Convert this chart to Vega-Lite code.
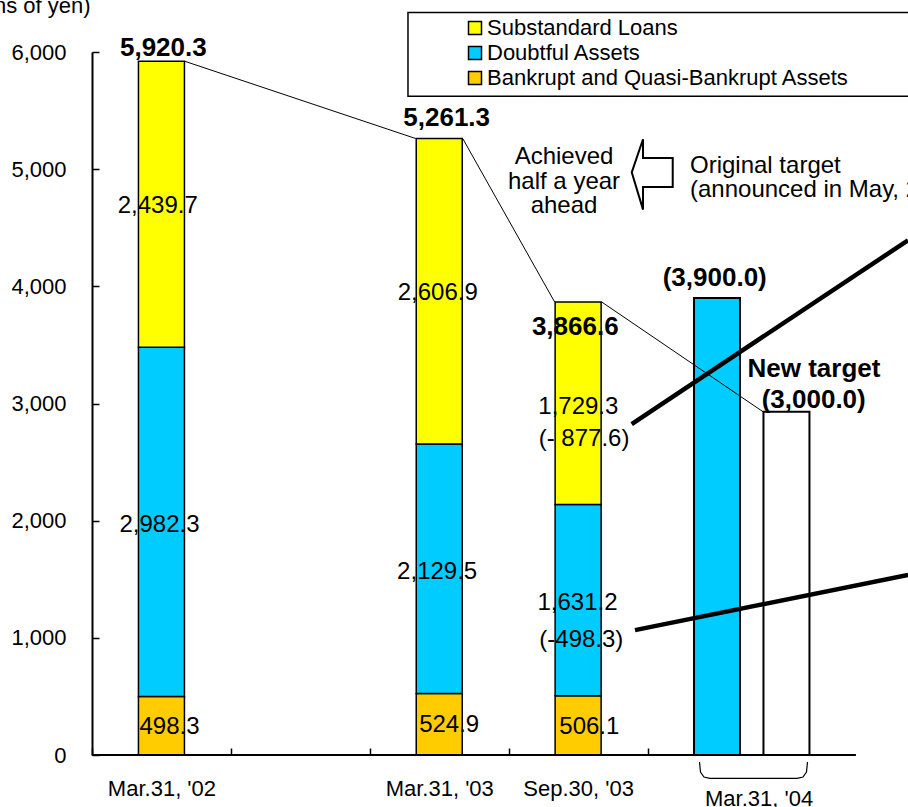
{
  "$schema": "https://vega.github.io/schema/vega-lite/v6.json",
  "width": 816,
  "height": 703,
  "autosize": {"type": "none"},
  "padding": {"left": 92, "top": 52, "right": 0, "bottom": 52},
  "background": "white",
  "config": {
    "font": "Liberation Sans",
    "view": {"stroke": null},
    "axis": {"labelFont": "Liberation Sans", "titleFont": "Liberation Sans", "grid": false},
    "legend": {"labelFont": "Liberation Sans"}
  },
  "datasets": {
    "bars": [
      {"slot": 1, "date": "Mar.31, '02", "category": "Bankrupt and Quasi-Bankrupt Assets", "amount": 498.3},
      {"slot": 1, "date": "Mar.31, '02", "category": "Doubtful Assets", "amount": 2982.3},
      {"slot": 1, "date": "Mar.31, '02", "category": "Substandard Loans", "amount": 2439.7},
      {"slot": 5, "date": "Mar.31, '03", "category": "Bankrupt and Quasi-Bankrupt Assets", "amount": 524.9},
      {"slot": 5, "date": "Mar.31, '03", "category": "Doubtful Assets", "amount": 2129.5},
      {"slot": 5, "date": "Mar.31, '03", "category": "Substandard Loans", "amount": 2606.9},
      {"slot": 7, "date": "Sep.30, '03", "category": "Bankrupt and Quasi-Bankrupt Assets", "amount": 506.1},
      {"slot": 7, "date": "Sep.30, '03", "category": "Doubtful Assets", "amount": 1631.2},
      {"slot": 7, "date": "Sep.30, '03", "category": "Substandard Loans", "amount": 1729.3}
    ],
    "targets": [
      {"slot": 9, "target": "Original target", "amount": 3900},
      {"slot": 10, "target": "New target", "amount": 2930}
    ],
    "connectors": [
      {"from": 1, "fromAmount": 5920.3, "to": 5, "toAmount": 5261.3},
      {"from": 5, "fromAmount": 5261.3, "to": 7, "toAmount": 3866.6},
      {"from": 7, "fromAmount": 3866.6, "to": 10, "toAmount": 2930}
    ],
    "callouts": [
      {"x": 7.771, "y": 2825, "x2": 11.75, "y2": 4393},
      {"x": 7.819, "y": 1066, "x2": 11.75, "y2": 1536}
    ],
    "bracket": [
      {"x": 8.748, "y": -60},
      {"x": 8.762, "y": -145},
      {"x": 8.812, "y": -188},
      {"x": 8.899, "y": -199},
      {"x": 10.152, "y": -199},
      {"x": 10.238, "y": -188},
      {"x": 10.288, "y": -145},
      {"x": 10.303, "y": -60}
    ],
    "arrow": [{"x": 8.067, "y": 4955}],
    "labels": [
      {"text": "5,920.3", "x": 1.027, "y": 6035, "kind": "total"},
      {"text": "5,261.3", "x": 5.107, "y": 5434, "kind": "total"},
      {"text": "3,866.6", "x": 6.959, "y": 3653, "kind": "total"},
      {"text": "(3,900.0)", "x": 8.967, "y": 4073, "kind": "total"},
      {"text": "New target", "x": 10.396, "y": 3297, "kind": "total"},
      {"text": "(3,000.0)", "x": 10.392, "y": 3033, "kind": "total"},
      {"text": "498.3", "x": 1.116, "y": 235, "kind": "value"},
      {"text": "2,982.3", "x": 0.972, "y": 1965, "kind": "value"},
      {"text": "2,439.7", "x": 0.946, "y": 4688, "kind": "value"},
      {"text": "524.9", "x": 5.143, "y": 252, "kind": "value"},
      {"text": "2,129.5", "x": 4.97, "y": 1566, "kind": "value"},
      {"text": "2,606.9", "x": 4.978, "y": 3940, "kind": "value"},
      {"text": "506.1", "x": 7.161, "y": 235, "kind": "value"},
      {"text": "1,631.2", "x": 6.991, "y": 1296, "kind": "value"},
      {"text": "(-498.3)", "x": 7.046, "y": 978, "kind": "value"},
      {"text": "1,729.3", "x": 7.003, "y": 2974, "kind": "value"},
      {"text": "(- 877.6)", "x": 7.085, "y": 2697, "kind": "value"},
      {"text": ["Achieved", "half a year", "ahead"], "x": 6.797, "y": 5101, "kind": "value"},
      {"text": ["Original target", "(announced in May, 2002)"], "x": 8.611, "y": 5030, "kind": "note"},
      {"text": "Mar.31, '04", "x": 9.605, "y": -378, "kind": "axis"}
    ]
  },
  "layer": [
    {
      "data": {"values": [{}]},
      "mark": {"type": "rect", "fill": "white", "stroke": "black", "strokeWidth": 1.5},
      "encoding": {
        "x": {"datum": 4.55, "type": "quantitative", "scale": {"domain": [0, 11.75], "nice": false, "zero": false, "padding": 0}},
        "x2": {"datum": 12.5},
        "y": {"datum": 6338, "type": "quantitative", "scale": {"domain": [0, 6000], "nice": false, "padding": 0}},
        "y2": {"datum": 5622}
      }
    },
    {
      "data": {"name": "bars"},
      "mark": {"type": "bar", "size": 46, "stroke": "black", "strokeWidth": 1.5},
      "encoding": {
        "x": {
          "field": "slot", "type": "quantitative",
          "scale": {"domain": [0, 11.75], "nice": false, "zero": false, "padding": 0},
          "axis": {
            "values": [0, 1, 2, 4, 5, 6, 7, 8, 10],
            "labelExpr": "datum.value == 1 ? \"Mar.31, '02\" : datum.value == 5 ? \"Mar.31, '03\" : datum.value == 7 ? \"Sep.30, '03\" : ''",
            "domain": false,
            "grid": false,
            "tickSize": -7,
            "tickWidth": 1.5,
            "tickColor": "black",
            "tickOpacity": {"condition": {"test": "datum.value == 1 || datum.value == 5 || datum.value == 7", "value": 0}, "value": 1},
            "labelFontSize": 22,
            "labelColor": "black",
            "labelPadding": 30,
            "labelOverlap": false,
            "labelFlush": false,
            "labelBaseline": "top",
            "title": null
          }
        },
        "y": {
          "field": "amount", "type": "quantitative", "stack": "zero",
          "scale": {"domain": [0, 6000], "nice": false, "padding": 0},
          "axis": {
            "values": [0, 1000, 2000, 3000, 4000, 5000, 6000],
            "format": ",d",
            "grid": false,
            "domainColor": "black",
            "domainWidth": 2,
            "tickSize": -7,
            "tickWidth": 1.5,
            "tickColor": "black",
            "labelFontSize": 22,
            "labelColor": "black",
            "labelPadding": 33,
            "title": "(Billions of yen)",
            "titleAngle": 0,
            "titleAlign": "right",
            "titleBaseline": "alphabetic",
            "titleX": -2,
            "titleY": -40,
            "titleFontSize": 22,
            "titleFontWeight": "normal",
            "titleColor": "black"
          }
        },
        "color": {
          "field": "category", "type": "nominal",
          "scale": {
            "domain": ["Substandard Loans", "Doubtful Assets", "Bankrupt and Quasi-Bankrupt Assets"],
            "range": ["#FFFF00", "#00CCFF", "#FFCC00"]
          },
          "legend": {
            "orient": "none",
            "legendX": 372,
            "legendY": -35,
            "title": null,
            "padding": 0,
            "labelFontSize": 22,
            "labelColor": "black",
            "labelLimit": 0,
            "labelOffset": 1,
            "symbolType": "square",
            "symbolSize": 169,
            "symbolStrokeColor": "black",
            "symbolStrokeWidth": 1.5,
            "rowPadding": 3
          }
        },
        "order": {"field": "category", "sort": "ascending"}
      }
    },
    {
      "data": {"name": "targets"},
      "mark": {"type": "bar", "size": 46, "stroke": "black", "strokeWidth": 2},
      "encoding": {
        "x": {"field": "slot", "type": "quantitative"},
        "y": {"field": "amount", "type": "quantitative"},
        "fill": {"condition": {"test": "datum.target === 'Original target'", "value": "#00CCFF"}, "value": "white"}
      }
    },
    {
      "data": {"values": [{}]},
      "mark": {"type": "rule", "stroke": "black", "strokeWidth": 2},
      "encoding": {
        "x": {"datum": 0, "type": "quantitative"},
        "x2": {"datum": 11},
        "y": {"datum": 0, "type": "quantitative"}
      }
    },
    {
      "data": {"name": "connectors"},
      "mark": {"type": "rule", "stroke": "black", "strokeWidth": 1, "xOffset": 23.5, "x2Offset": -23.5},
      "encoding": {
        "x": {"field": "from", "type": "quantitative"},
        "x2": {"field": "to"},
        "y": {"field": "fromAmount", "type": "quantitative"},
        "y2": {"field": "toAmount"}
      }
    },
    {
      "data": {"name": "bracket"},
      "mark": {"type": "line", "stroke": "black", "strokeWidth": 1.2, "interpolate": "linear"},
      "encoding": {
        "x": {"field": "x", "type": "quantitative"},
        "y": {"field": "y", "type": "quantitative"}
      }
    },
    {
      "data": {"name": "arrow"},
      "mark": {
        "type": "point",
        "shape": "M -0.583 -0.06 L -0.262 -1 L -0.262 -0.47 L 0.583 -0.47 L 0.583 0.36 L -0.262 0.36 L -0.262 1 Z",
        "size": 4942,
        "filled": true,
        "fill": "white",
        "stroke": "black",
        "strokeWidth": 2,
        "opacity": 1
      },
      "encoding": {
        "x": {"field": "x", "type": "quantitative"},
        "y": {"field": "y", "type": "quantitative"}
      }
    },
    {
      "data": {"name": "labels"},
      "transform": [{"filter": "datum.kind === 'value'"}],
      "mark": {"type": "text", "fontSize": 24, "color": "black", "align": "center", "baseline": "middle", "lineHeight": 24.5},
      "encoding": {
        "x": {"field": "x", "type": "quantitative"},
        "y": {"field": "y", "type": "quantitative"},
        "text": {"field": "text"}
      }
    },
    {
      "data": {"name": "labels"},
      "transform": [{"filter": "datum.kind === 'note'"}],
      "mark": {"type": "text", "fontSize": 24, "color": "black", "align": "left", "baseline": "middle", "lineHeight": 24.5},
      "encoding": {
        "x": {"field": "x", "type": "quantitative"},
        "y": {"field": "y", "type": "quantitative"},
        "text": {"field": "text"}
      }
    },
    {
      "data": {"name": "labels"},
      "transform": [{"filter": "datum.kind === 'axis'"}],
      "mark": {"type": "text", "fontSize": 22, "color": "black", "align": "center", "baseline": "middle"},
      "encoding": {
        "x": {"field": "x", "type": "quantitative"},
        "y": {"field": "y", "type": "quantitative"},
        "text": {"field": "text"}
      }
    },
    {
      "data": {"name": "labels"},
      "transform": [{"filter": "datum.kind === 'total'"}],
      "mark": {"type": "text", "fontSize": 26, "fontWeight": "bold", "color": "black", "align": "center", "baseline": "middle"},
      "encoding": {
        "x": {"field": "x", "type": "quantitative"},
        "y": {"field": "y", "type": "quantitative"},
        "text": {"field": "text"}
      }
    },
    {
      "data": {"name": "callouts"},
      "mark": {"type": "rule", "stroke": "black", "strokeWidth": 4.5},
      "encoding": {
        "x": {"field": "x", "type": "quantitative"},
        "x2": {"field": "x2"},
        "y": {"field": "y", "type": "quantitative"},
        "y2": {"field": "y2"}
      }
    }
  ]
}
